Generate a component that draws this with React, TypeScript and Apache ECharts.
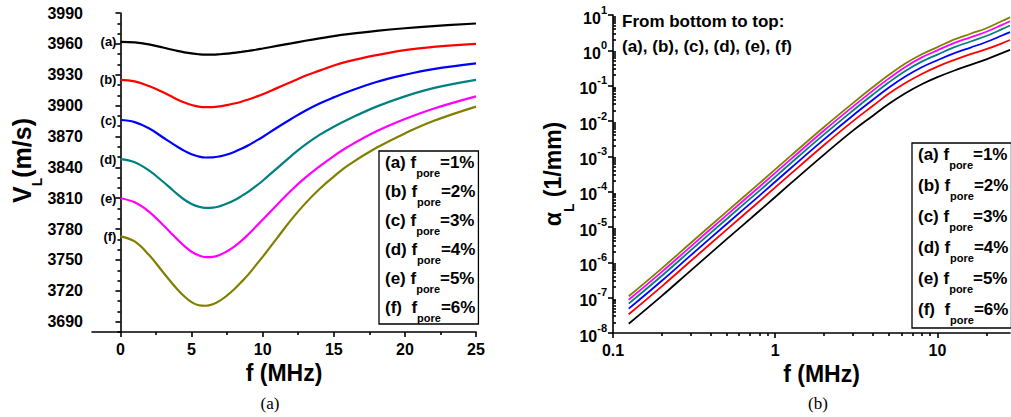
import React, { useEffect, useRef } from 'react';
import * as echarts from 'echarts';

const FONT = "'Liberation Sans', Arial, Helvetica, sans-serif";
const SERIF = "'Liberation Serif', 'Times New Roman', serif";

const seriesKeys = ['a', 'b', 'c', 'd', 'e', 'f'];
const porePercents = [1, 2, 3, 4, 5, 6];
const colors = ['#000000', '#ff0000', '#0000ff', '#008080', '#ff00ff', '#808000'];

// ---- panel (a): longitudinal velocity vs frequency ----
const freqMHz = [0, 1, 2, 3, 3.5, 4, 4.5, 5, 5.5, 6, 6.5, 7, 7.5, 8, 8.5, 9, 9.5, 10, 11, 12, 13, 14, 15, 16, 18, 20, 22, 25];
const velA = [3962, 3961.5, 3959.5, 3956.5, 3954.8, 3953.2, 3951.8, 3950.7, 3949.9, 3949.5, 3949.5, 3949.9, 3950.5, 3951.3, 3952.2, 3953.2, 3954.3, 3955.5, 3958, 3960.5, 3963, 3965.3, 3967.5, 3969.4, 3972.6, 3975.2, 3977.3, 3979.8];
const velB = [3925, 3923.5, 3919, 3913, 3909.5, 3906, 3903, 3900.6, 3899.1, 3898.5, 3898.6, 3899.3, 3900.5, 3902, 3903.8, 3906, 3908.4, 3911, 3917, 3923, 3929, 3934, 3939, 3943, 3949, 3954, 3957, 3960];
const velC = [3886, 3884, 3878, 3869, 3864.5, 3860, 3856, 3852.8, 3850.6, 3849.6, 3849.7, 3850.7, 3852.5, 3855, 3858, 3861.5, 3865.5, 3869.5, 3878.5, 3887, 3895, 3902, 3908, 3913.5, 3923, 3930, 3935.5, 3941];
const velD = [3848, 3845, 3837, 3826, 3820, 3814, 3808.5, 3804.5, 3801.8, 3800.6, 3800.8, 3802.3, 3804.8, 3808, 3812, 3816.5, 3821.5, 3827, 3839, 3851, 3862, 3871.5, 3879.5, 3886.5, 3899, 3909, 3917, 3925];
const velE = [3810, 3806, 3797, 3784, 3777, 3770, 3763.5, 3758, 3754.5, 3752.8, 3753, 3755, 3758.5, 3763, 3768.5, 3775, 3782, 3789, 3803.5, 3817.5, 3830, 3841, 3851, 3860, 3875, 3887, 3897, 3909];
const velF = [3773, 3768, 3755, 3738, 3729.5, 3721.5, 3714.5, 3709, 3706, 3705.5, 3707, 3710.5, 3715.5, 3721.5, 3728.5, 3736, 3744.5, 3753, 3771, 3789, 3805, 3819, 3831, 3842, 3859, 3873, 3885, 3899];
const velocities = [velA, velB, velC, velD, velE, velF];

const leftXMajor = [0, 5, 10, 15, 20, 25];
const leftXMinor = [2.5, 7.5, 12.5, 17.5, 22.5];
const leftYMajor = [3690, 3720, 3750, 3780, 3810, 3840, 3870, 3900, 3930, 3960, 3990];
const leftYMinor = [3680, 3700, 3710, 3730, 3740, 3760, 3770, 3790, 3800, 3820, 3830, 3850, 3860, 3880, 3890, 3910, 3920, 3940, 3950, 3970, 3980];

// ---- panel (b): attenuation vs frequency (log-log) ----
const freqLog = [0.125, 0.2, 0.3, 0.5, 0.8, 1.25, 2, 3, 4, 5, 6.3, 8, 10, 12.5, 16, 20, 25, 28];
const alphaA = [1.82e-8, 1.12e-7, 5.75e-7, 4.47e-6, 2.88e-5, 1.74e-4, 1.12e-3, 5.25e-3, 1.41e-2, 3.02e-2, 6.03e-2, 0.110, 0.174, 0.260, 0.389, 0.556, 0.832, 1.03];
const alphaB = [3.39e-8, 2.09e-7, 1.07e-6, 8.32e-6, 5.37e-5, 3.24e-4, 2.09e-3, 9.77e-3, 2.69e-2, 5.89e-2, 0.117, 0.214, 0.347, 0.519, 0.776, 1.08, 1.58, 1.96];
const alphaC = [4.90e-8, 3.02e-7, 1.55e-6, 1.20e-5, 7.76e-5, 4.68e-4, 3.02e-3, 1.41e-2, 3.98e-2, 8.71e-2, 0.178, 0.331, 0.525, 0.804, 1.20, 1.72, 2.63, 3.26];
const alphaD = [6.76e-8, 4.17e-7, 2.14e-6, 1.66e-5, 1.07e-4, 6.46e-4, 4.17e-3, 1.95e-2, 5.62e-2, 0.123, 0.257, 0.479, 0.759, 1.19, 1.78, 2.54, 3.98, 5.05];
const alphaE = [8.71e-8, 5.37e-7, 2.75e-6, 2.14e-5, 1.38e-4, 8.32e-4, 5.37e-3, 2.51e-2, 7.24e-2, 0.158, 0.331, 0.631, 1.00, 1.57, 2.34, 3.35, 5.25, 6.65];
const alphaF = [1.10e-7, 6.76e-7, 3.47e-6, 2.69e-5, 1.74e-4, 1.05e-3, 6.76e-3, 3.16e-2, 9.12e-2, 0.200, 0.417, 0.776, 1.23, 1.97, 2.95, 4.22, 6.76, 8.57];
const alphas = [alphaA, alphaB, alphaC, alphaD, alphaE, alphaF];

const rightXMajor = [0.1, 1, 10];
const rightXMinor = [0.2, 0.3, 0.4, 0.5, 0.6, 0.7, 0.8, 0.9, 2, 3, 4, 5, 6, 7, 8, 9, 20];
const rightYExponents = [-8, -7, -6, -5, -4, -3, -2, -1, 0, 1];

export default function App() {
  const ref = useRef<HTMLDivElement>(null);

  useEffect(() => {
    if (!ref.current) return;
    const chart = echarts.init(ref.current, undefined, { renderer: 'svg' });

    const rightYMajor = rightYExponents.map((e) => Math.pow(10, e));
    const rightYMinor: number[] = [];
    rightYExponents.slice(0, -1).forEach((e) => {
      for (let m = 2; m <= 9; m++) rightYMinor.push(m * Math.pow(10, e));
    });

    const axisLine = { show: true, lineStyle: { color: '#000', width: 1.6 } };
    const tickStyle = { color: '#000', width: 1.6 };
    const labelStyle = { color: '#000', fontSize: 16, fontWeight: 'bold', fontFamily: FONT };
    const nameStyle = { color: '#000', fontSize: 23, fontWeight: 'bold', fontFamily: FONT };

    const legendRich = {
      m: { fontSize: 17, fontWeight: 'bold', fontFamily: FONT, color: '#000', lineHeight: 24, verticalAlign: 'top' },
      s: { fontSize: 11, fontWeight: 'bold', fontFamily: FONT, color: '#000', lineHeight: 24, verticalAlign: 'bottom' },
    };
    const legendFormatter = (name: string) => {
      const i = seriesKeys.indexOf(name);
      const gap = name === 'f' ? '  ' : ' ';
      return `{m|(${name})${gap}f}{s|pore}{m|=${porePercents[i]}%}`;
    };
    const legendBase = {
      orient: 'vertical',
      data: seriesKeys,
      itemWidth: 0,
      itemHeight: 0,
      selectedMode: false,
      borderColor: '#000',
      borderWidth: 1.3,
      formatter: legendFormatter,
      itemStyle: { opacity: 0 },
      lineStyle: { opacity: 0 },
      textStyle: { color: '#000', rich: legendRich },
    };

    const leftSeries = seriesKeys.map((k, si) => ({
      type: 'line',
      name: k,
      xAxisIndex: 0,
      yAxisIndex: 0,
      smooth: 0.4,
      symbol: 'circle',
      symbolSize: 0,
      showSymbol: true,
      lineStyle: { color: colors[si], width: 2.2 },
      itemStyle: { color: colors[si] },
      data: freqMHz.map((x, i) =>
        i === 0
          ? {
              value: [x, velocities[si][i]],
              label: {
                show: true,
                position: 'left',
                distance: 4,
                formatter: `(${k})`,
                color: '#000',
                fontSize: 13,
                fontWeight: 'bold',
                fontFamily: FONT,
              },
            }
          : [x, velocities[si][i]]
      ),
    }));

    const rightSeries = seriesKeys.map((k, si) => ({
      type: 'line',
      name: k,
      xAxisIndex: 2,
      yAxisIndex: 2,
      smooth: 0.4,
      showSymbol: false,
      symbol: 'none',
      lineStyle: { color: colors[si], width: 1.8 },
      itemStyle: { color: colors[si] },
      data: freqLog.map((x, i) => [x, alphas[si][i]]),
    }));

    chart.setOption({
      animation: false,
      backgroundColor: '#fff',
      textStyle: { fontFamily: FONT },
      grid: [
        { left: 92, top: 13, width: 384, height: 319 },
        { left: 613, top: 15, width: 397, height: 318 },
      ],
      xAxis: [
        {
          gridIndex: 0, type: 'value', min: -2, max: 25, position: 'bottom',
          axisLine, splitLine: { show: false },
          axisTick: { customValues: leftXMajor, length: 5, lineStyle: tickStyle },
          axisLabel: { customValues: leftXMajor, margin: 9, formatter: (v: number) => String(v), ...labelStyle },
          name: 'f (MHz)', nameLocation: 'middle', nameGap: 28, nameTextStyle: nameStyle,
        },
        {
          gridIndex: 0, type: 'value', min: -2, max: 25, position: 'bottom',
          axisLine: { show: false }, splitLine: { show: false }, axisLabel: { show: false },
          axisTick: { customValues: leftXMinor, length: 3, lineStyle: tickStyle },
        },
        {
          gridIndex: 1, type: 'log', logBase: 10, min: 0.1, max: 28, position: 'bottom',
          axisLine, splitLine: { show: false },
          axisTick: { customValues: rightXMajor, length: 5, lineStyle: tickStyle },
          axisLabel: { customValues: rightXMajor, margin: 9, formatter: (v: number) => String(v), ...labelStyle },
          name: 'f (MHz)', nameLocation: 'middle', nameGap: 28,
          nameTextStyle: { ...nameStyle, padding: [0, 0, 0, 20] },
        },
        {
          gridIndex: 1, type: 'log', logBase: 10, min: 0.1, max: 28, position: 'bottom',
          axisLine: { show: false }, splitLine: { show: false }, axisLabel: { show: false },
          axisTick: { customValues: rightXMinor, length: 3, lineStyle: tickStyle },
        },
      ],
      yAxis: [
        {
          gridIndex: 0, type: 'value', min: 3680, max: 3990, position: 'left',
          axisLine, splitLine: { show: false },
          axisTick: { customValues: leftYMajor, length: 5, lineStyle: tickStyle },
          axisLabel: { customValues: leftYMajor, margin: 9, formatter: (v: number) => String(v), ...labelStyle },
          name: '{v|V}{s|L}{v|(m/s)}', nameLocation: 'middle', nameGap: 34,
          nameTextStyle: {
            padding: [0, 0, 0, 24],
            rich: {
              v: { ...nameStyle, fontSize: 25, lineHeight: 34, verticalAlign: 'top' },
              s: { color: '#000', fontSize: 14, fontWeight: 'bold', fontFamily: FONT, lineHeight: 34, verticalAlign: 'bottom' },
            },
          },
        },
        {
          gridIndex: 0, type: 'value', min: 3680, max: 3990, position: 'left',
          axisLine: { show: false }, splitLine: { show: false }, axisLabel: { show: false },
          axisTick: { customValues: leftYMinor, length: 3, lineStyle: tickStyle },
        },
        {
          gridIndex: 1, type: 'log', logBase: 10, min: 1e-8, max: 10, position: 'left',
          axisLine, splitLine: { show: false },
          axisTick: { customValues: rightYMajor, length: 5, lineStyle: tickStyle },
          axisLabel: {
            customValues: rightYMajor, margin: 6,
            formatter: (v: number) => `{b|10}{e|${Math.round(Math.log10(v))}}`,
            rich: {
              b: { color: '#000', fontSize: 16, fontWeight: 'bold', fontFamily: FONT, lineHeight: 22, verticalAlign: 'bottom' },
              e: { color: '#000', fontSize: 11, fontWeight: 'bold', fontFamily: FONT, lineHeight: 22, verticalAlign: 'top' },
            },
          },
          name: '{v|α}{s|L}{v| (1/mm)}', nameLocation: 'middle', nameGap: 36,
          nameTextStyle: {
            rich: {
              v: { ...nameStyle, lineHeight: 34, verticalAlign: 'top' },
              s: { color: '#000', fontSize: 14, fontWeight: 'bold', fontFamily: FONT, lineHeight: 34, verticalAlign: 'bottom' },
            },
          },
        },
        {
          gridIndex: 1, type: 'log', logBase: 10, min: 1e-8, max: 10, position: 'left',
          axisLine: { show: false }, splitLine: { show: false }, axisLabel: { show: false },
          axisTick: { inside: true, customValues: rightYMinor, length: 3, lineStyle: tickStyle },
        },
      ],
      legend: [
        { ...legendBase, left: 379, top: 151, itemGap: 5, padding: [3, 3, 1, 0] },
        { ...legendBase, left: 912, top: 143, itemGap: 7, padding: [3, 3, 3, 0] },
      ],
      graphic: [
        {
          type: 'text', left: 622, top: 9,
          style: {
            text: 'From bottom to top:\n(a), (b), (c), (d), (e), (f)',
            fontSize: 17, fontWeight: 'bold', fontFamily: FONT, fill: '#000', lineHeight: 25,
          },
        },
        {
          type: 'text', x: 270, y: 403,
          style: { text: '(a)', fontSize: 17, fontFamily: SERIF, fill: '#000', textAlign: 'center', textVerticalAlign: 'middle' },
        },
        {
          type: 'text', x: 818, y: 403,
          style: { text: '(b)', fontSize: 17, fontFamily: SERIF, fill: '#000', textAlign: 'center', textVerticalAlign: 'middle' },
        },
      ],
      series: [...leftSeries, ...rightSeries],
    });

    return () => chart.dispose();
  }, []);

  return (
    <div
      ref={ref}
      style={{ position: 'fixed', left: 0, top: 0, width: 1011, height: 417, background: '#fff' }}
    />
  );
}
